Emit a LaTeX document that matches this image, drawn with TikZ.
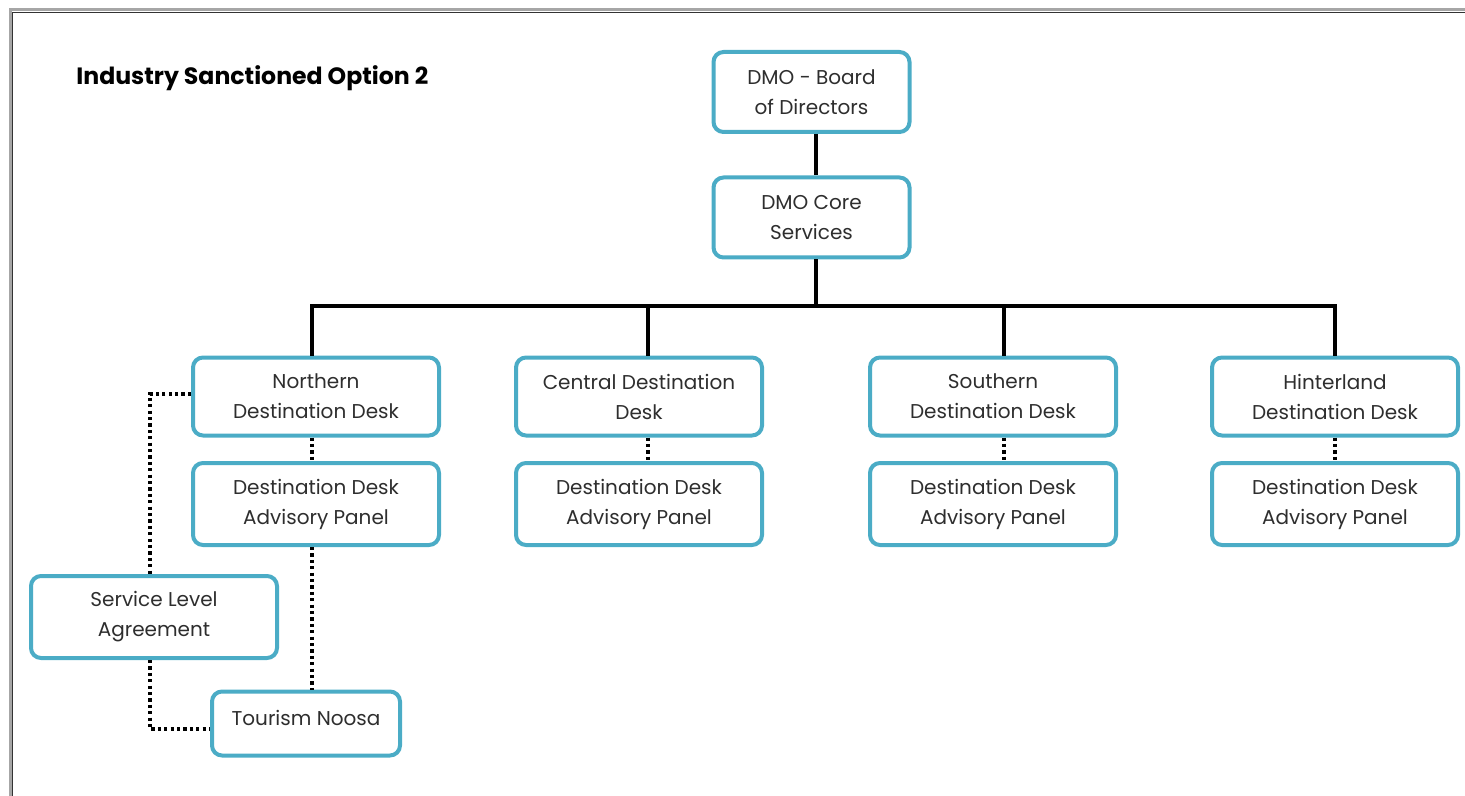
\documentclass[tikz,border=0pt]{standalone}
\usepackage{fontspec}
\setmainfont{Poppins}
\definecolor{boxblue}{HTML}{4BACC6}
\definecolor{txtgray}{HTML}{2E2E2E}
\tikzset{
  orgbox/.style={draw=boxblue, line width=2pt, rounded corners=5pt, fill=white,
    align=center, text=txtgray, font=\fontsize{10}{15}\selectfont,
    minimum width=123pt, minimum height=39pt, inner sep=0pt},
  solidlink/.style={line width=2pt, black},
  dotlink/.style={line width=1.7pt, black, dash pattern=on 1.6pt off 1.6pt}
}
\begin{document}
\begin{tikzpicture}[x=0.5pt,y=-0.5pt]
\useasboundingbox (0,0) rectangle (1465,796);
% page frame
\draw[gray!70, line width=1.5pt] (10,796) -- (10,10) -- (1465,10);
\draw[black!80, line width=0.4pt] (12,796) -- (12,12) -- (1465,12);

\node[anchor=west, inner sep=0pt, font=\fontsize{11.8}{13}\selectfont\bfseries, text=black] (title) at (76,78) {Industry Sanctioned Option 2};

\node[orgbox, minimum width=98pt, minimum height=40pt] (board) at (811.5,92) {DMO - Board\\of Directors};
\node[orgbox, minimum width=98pt, minimum height=40pt] (core) at (811.5,217.5) {DMO Core\\Services};

\node[orgbox] (north) at (316,396.5) {Northern\\Destination Desk};
\node[orgbox] (central) at (639,396.5) {Central Destination\\Desk};
\node[orgbox] (south) at (993,396.5) {Southern\\Destination Desk};
\node[orgbox] (hinter) at (1335,396.5) {Hinterland\\Destination Desk};

\node[orgbox, minimum height=41pt] (pnorth) at (316,504) {Destination Desk\\Advisory Panel};
\node[orgbox, minimum height=41pt] (pcentral) at (639,504) {Destination Desk\\Advisory Panel};
\node[orgbox, minimum height=41pt] (psouth) at (993,504) {Destination Desk\\Advisory Panel};
\node[orgbox, minimum height=41pt] (phinter) at (1335,504) {Destination Desk\\Advisory Panel};

\node[orgbox, minimum height=41pt] (sla) at (154,617) {Service Level\\Agreement};
\node[orgbox, minimum width=94pt, minimum height=32pt, text depth=6pt] (noosa) at (306,723.5) {Tourism Noosa};

% solid hierarchy
\coordinate (bus) at (816,306);
\draw[solidlink] (board.south -| bus) -- (core.north -| bus);
\draw[solidlink] (core.south -| bus) -- (bus);
\draw[solidlink] (north.north -| 312,0) |- (hinter.north |- bus) -- (hinter.north);
\draw[solidlink] (central.north -| 648,0) -- (648,306);
\draw[solidlink] (south.north -| 1004,0) -- (1004,306);

% dotted links
\draw[dotlink] (north.south -| 312,0) -- (pnorth.north -| 312,0);
\draw[dotlink] (central.south -| 648,0) -- (pcentral.north -| 648,0);
\draw[dotlink] (south.south -| 1004,0) -- (psouth.north -| 1004,0);
\draw[dotlink] (hinter.south) -- (phinter.north);
\draw[dotlink] (pnorth.south -| 312,0) -- (noosa.north -| 312,0);
\draw[dotlink] (north.west |- 0,394) -| (sla.north -| 150,0);
\draw[dotlink] (sla.south -| 150,0) |- (noosa.west |- 0,729);
\end{tikzpicture}
\end{document}
